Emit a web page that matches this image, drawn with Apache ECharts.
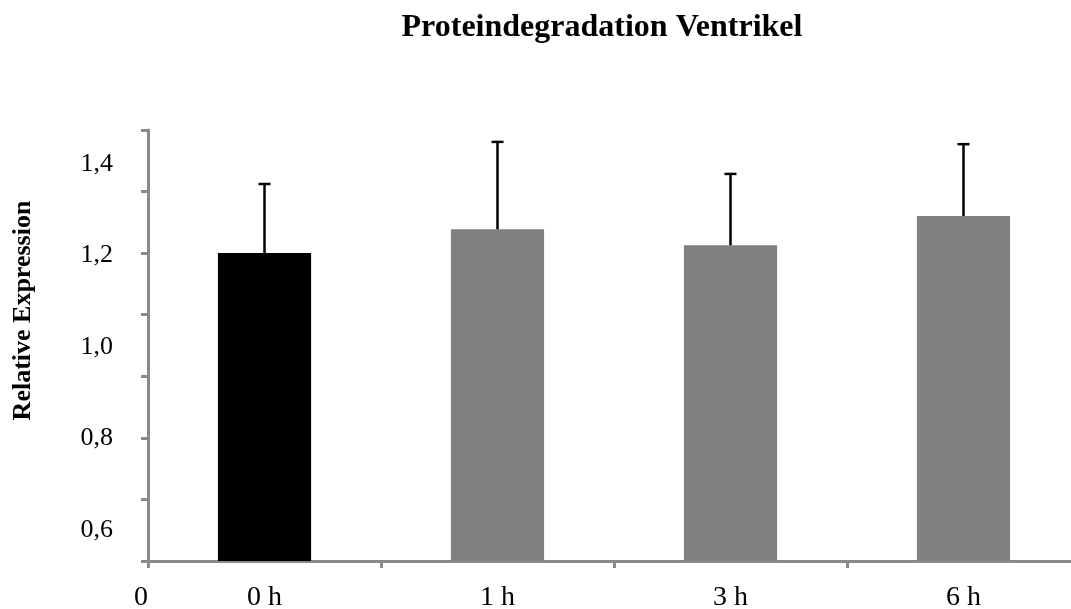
<!DOCTYPE html>
<html>
<head>
<meta charset="utf-8">
<script src="https://cdn.jsdelivr.net/npm/echarts@6/dist/echarts.min.js"></script>
<style>html,body{margin:0;padding:0;background:#fff}#c{width:1071px;height:609px}</style>
</head>
<body>
<div id="c"></div>
<script>
const categories = ['0 h', '1 h', '3 h', '6 h'];
const values = [1.205, 1.257, 1.222, 1.286];
const errors = [0.151, 0.191, 0.156, 0.157];
const barColors = ['#000000', '#808080', '#808080', '#808080'];
const yLabelValues = [0.6, 0.8, 1.0, 1.2, 1.4];
const yMin = 0.532, yMax = 1.474;
const originLabel = '0';

const FONT = "'Liberation Serif', 'Times New Roman', serif";
const AXIS = '#8a8a8a';

const chart = echarts.init(document.getElementById('c'));
chart.setOption({
  animation: false,
  title: {
    text: 'Proteindegradation Ventrikel',
    left: 597, top: 7, textAlign: 'center',
    textStyle: { fontFamily: FONT, fontWeight: 'bold', fontSize: 32, color: '#000' }
  },
  grid: { left: 148, top: 130, bottom: 48, width: 932, containLabel: false, outerBoundsMode: 'none' },
  xAxis: [
    {
      type: 'category', data: categories, boundaryGap: true,
      axisLine: { lineStyle: { color: AXIS, width: 3 } },
      axisTick: { show: true, alignWithLabel: false, length: 7, lineStyle: { color: AXIS, width: 3 } },
      axisLabel: { fontFamily: FONT, fontSize: 28, color: '#000', margin: 23 },
      splitLine: { show: false }
    },
    {
      type: 'value', position: 'bottom', min: 0, max: categories.length, interval: categories.length,
      axisLine: { show: false }, axisTick: { show: false }, splitLine: { show: false },
      axisLabel: { fontFamily: FONT, fontSize: 28, color: '#000', margin: 23, padding: [0, 14, 0, 0],
        formatter: v => (v === 0 ? originLabel : '') }
    }
  ],
  yAxis: [
    {
      type: 'value', min: yMin, max: yMax,
      name: 'Relative Expression', nameLocation: 'middle', nameGap: 112,
      nameTextStyle: { fontFamily: FONT, fontWeight: 'bold', fontSize: 26, color: '#000', padding: [0, 0, 0, 70] },
      axisLine: { show: true, lineStyle: { color: AXIS, width: 3 } },
      axisTick: { show: false },
      splitLine: { show: false },
      axisLabel: { customValues: yLabelValues, fontFamily: FONT, fontSize: 26, color: '#000', margin: 35,
        formatter: v => v.toFixed(1).replace('.', ',') }
    },
    {
      type: 'value', min: 0, max: 7, interval: 1, position: 'left',
      axisLine: { show: false },
      axisTick: { show: true, length: 7, lineStyle: { color: AXIS, width: 3 } },
      axisLabel: { show: false }, splitLine: { show: false }
    }
  ],
  series: [
    {
      type: 'bar', xAxisIndex: 0, yAxisIndex: 0, barWidth: '40%',
      data: values.map((v, i) => ({ value: v, itemStyle: { color: barColors[i] } }))
    },
    {
      type: 'custom', xAxisIndex: 0, yAxisIndex: 0, z: 5,
      data: values.map((v, i) => [i, v, v + errors[i]]),
      renderItem: (params, api) => {
        const base = api.coord([api.value(0), api.value(1)]);
        const top = api.coord([api.value(0), api.value(2)]);
        const cap = 6;
        const style = { stroke: '#000', lineWidth: 2.5 };
        return { type: 'group', children: [
          { type: 'line', shape: { x1: base[0], y1: base[1], x2: top[0], y2: top[1] }, style },
          { type: 'line', shape: { x1: top[0] - cap, y1: top[1], x2: top[0] + cap, y2: top[1] }, style }
        ]};
      }
    }
  ]
});
</script>
</body>
</html>
